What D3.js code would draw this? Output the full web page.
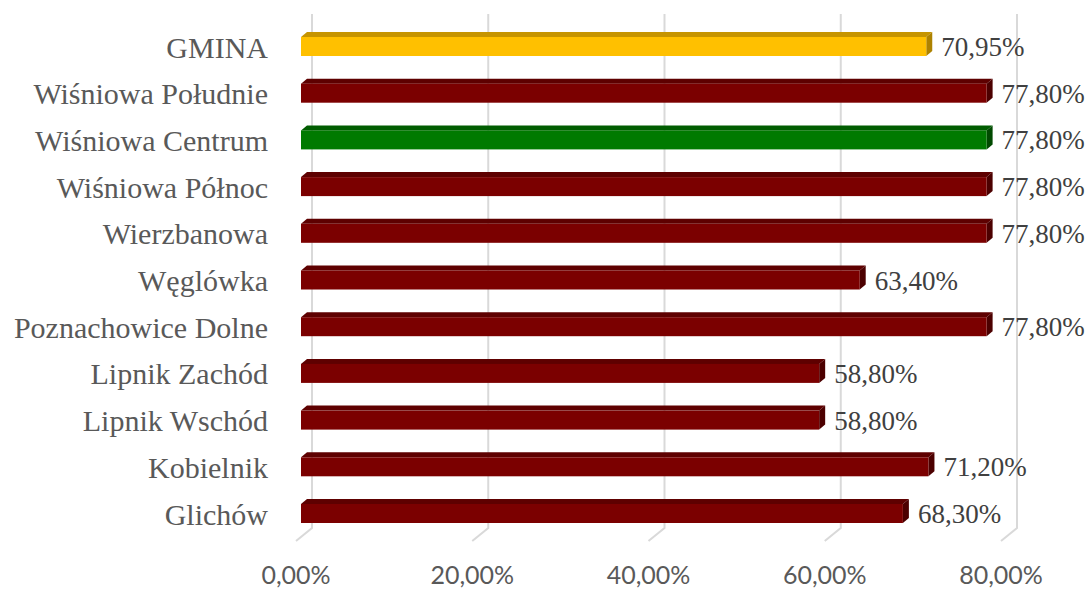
<!DOCTYPE html>
<html>
<head>
<meta charset="utf-8">
<script src="https://cdn.jsdelivr.net/npm/d3@7"></script>
<style>
  html, body { margin: 0; padding: 0; background: #ffffff; }
  svg { display: block; }
</style>
</head>
<body>
<svg id="chart" width="1092" height="590"></svg>
<script>
// Share of residents per locality (percent), top row first
const categories = [
  "GMINA", "Wiśniowa Południe", "Wiśniowa Centrum", "Wiśniowa Północ",
  "Wierzbanowa", "Węglówka", "Poznachowice Dolne", "Lipnik Zachód",
  "Lipnik Wschód", "Kobielnik", "Glichów"
];
const values = [70.95, 77.80, 77.80, 77.80, 77.80, 63.40, 77.80, 58.80, 58.80, 71.20, 68.30];
const barKinds = ["total", "area", "highlight", "area", "area", "area", "area", "area", "area", "area", "area"];
const tickValues = [0, 20, 40, 60, 80];

// Face colours of the 3D bars: front, top, side
const palette = {
  total:     { front: "#FFC000", top: "#C69400", side: "#AD8200" },
  area:      { front: "#7B0000", top: "#5E0000", side: "#4C0000" },
  highlight: { front: "#007A00", top: "#005C00", side: "#004A00" }
};

const fmt = v => v.toFixed(2).replace(".", ",") + "%";

const svg = d3.select("#chart");

// Floor front edge (x), and the depth offset to the back wall
const x = d3.scaleLinear().domain([0, 80]).range([296, 1001]);
const depth = { dx: 16, dy: -13 };
const wallTop = 14, floorFront = 541;

// Bar centre rows
const y = d3.scalePoint().domain(categories).range([46.5, 513.5]);
const barH = 19;
const barInset = 5;           // bar front plane sits this far into the depth
const bd = { dx: 6, dy: -5 }; // bar thickness projected

// Gridlines on the back wall, bending down over the floor
const grid = svg.append("g");
tickValues.forEach(v => {
  const xb = x(v) + depth.dx;
  grid.append("path")
    .attr("d", `M${xb},${wallTop} L${xb},${floorFront + depth.dy} L${x(v)},${floorFront}`)
    .attr("fill", "none")
    .attr("stroke", "#D9D9D9")
    .attr("stroke-width", 2);
});

// Tick labels along the floor front edge
svg.append("g").selectAll("text")
  .data(tickValues)
  .join("text")
  .attr("x", d => x(d))
  .attr("y", 584)
  .attr("text-anchor", "middle")
  .attr("font-family", "Lato, 'Open Sans', sans-serif")
  .attr("font-size", 25)
  .attr("fill", "#595959")
  .text(d => d.toFixed(2).replace(".", ",") + "%");

// Bars
const bars = svg.append("g").selectAll("g")
  .data(categories.map((c, i) => ({ c, v: values[i], kind: barKinds[i] })))
  .join("g");

bars.each(function(d) {
  const g = d3.select(this);
  const col = palette[d.kind];
  const x0 = x(0) + barInset;
  const x1 = x(d.v) + barInset;
  const y0 = y(d.c) - barH / 2;
  const y1 = y0 + barH;
  // top face
  g.append("path")
    .attr("d", `M${x0},${y0} L${x0 + bd.dx},${y0 + bd.dy} L${x1 + bd.dx},${y0 + bd.dy} L${x1},${y0} Z`)
    .attr("fill", col.top);
  // side face
  g.append("path")
    .attr("d", `M${x1},${y0} L${x1 + bd.dx},${y0 + bd.dy} L${x1 + bd.dx},${y1 + bd.dy} L${x1},${y1} Z`)
    .attr("fill", col.side);
  // front face
  g.append("rect")
    .attr("x", x0).attr("y", y0)
    .attr("width", x1 - x0).attr("height", barH)
    .attr("fill", col.front);
  // value label
  g.append("text")
    .attr("x", x1 + bd.dx + 9)
    .attr("y", y(d.c) + 9.5)
    .attr("font-family", "'Liberation Serif', 'Times New Roman', serif")
    .attr("font-size", 27)
    .attr("fill", "#404040")
    .text(fmt(d.v));
});

// Category labels
svg.append("g").selectAll("text")
  .data(categories)
  .join("text")
  .attr("x", 268)
  .attr("y", d => y(d) + 11)
  .attr("text-anchor", "end")
  .attr("font-family", "'Liberation Serif', 'Times New Roman', serif")
  .attr("font-size", 30)
  .attr("fill", "#595959")
  .text(d => d);
</script>
</body>
</html>
